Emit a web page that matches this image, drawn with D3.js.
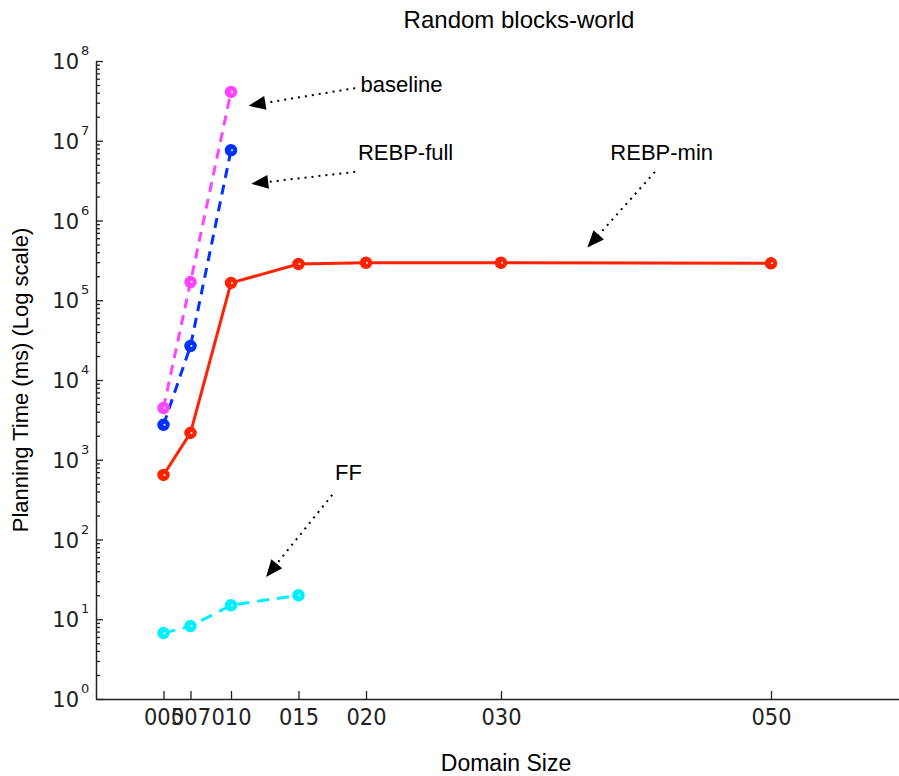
<!DOCTYPE html>
<html>
<head>
<meta charset="utf-8">
<script src="https://cdn.jsdelivr.net/npm/d3@7"></script>
<style>
  html, body { margin: 0; padding: 0; background: #fff; }
  svg { display: block; }
</style>
</head>
<body>
<div id="chart"></div>
<script>
// Data
const sizes = [5, 7, 10, 15, 20, 30, 50];
const sizeLabels = ["005", "007", "010", "015", "020", "030", "050"];
const baseline = [4450, 169000, 41000000];
const rebpFull = [2740, 26700, 7600000];
const rebpMin = [645, 2170, 165000, 285000, 295000, 295000, 290000];
const ff = [6.7, 8.2, 15, 20];
const yExponents = [0, 1, 2, 3, 4, 5, 6, 7, 8];

// annotations in data units (y given as log10)
const notes = [
  { text: "baseline",  at: [19.6, 7.61], tail: [19.2, 7.66], tip: [11.3, 7.44] },
  { text: "REBP-full", at: [19.4, 6.76], tail: [19.2, 6.61], tip: [11.5, 6.46] },
  { text: "REBP-min",  at: [38.1, 6.76], tail: [41.4, 6.61], tip: [36.4, 5.66] },
  { text: "FF",        at: [17.7, 2.75], tail: [17.5, 2.56], tip: [12.6, 1.53] }
];

const width = 899, height = 776;
const marginLeft = 96, marginTop = 61, plotBottom = 699;

const svg = d3.select("#chart")
  .append("svg")
  .attr("width", width)
  .attr("height", height);

svg.append("rect").attr("width", width).attr("height", height).attr("fill", "#fff");

const x = d3.scaleLinear().domain([0, 60]).range([marginLeft, marginLeft + 810]);
const y = d3.scaleLog().domain([1, 1e8]).range([plotBottom, marginTop]);

const tickFont = "'DejaVu Sans', 'Liberation Sans', sans-serif";
const textFont = "'Liberation Sans', Arial, sans-serif";

// Title
svg.append("text")
  .attr("x", 519)
  .attr("y", 28)
  .attr("text-anchor", "middle")
  .attr("font-family", textFont)
  .attr("font-size", "24px")
  .text("Random blocks-world");

// X axis
const xAxis = svg.append("g")
  .attr("transform", `translate(0,${plotBottom})`)
  .call(d3.axisBottom(x)
    .tickValues(sizes)
    .tickFormat((d, i) => sizeLabels[i])
    .tickSize(-8)
    .tickSizeOuter(0)
    .tickPadding(9));
xAxis.select(".domain").attr("stroke", "#222").attr("stroke-width", 1.5);
xAxis.selectAll(".tick line").attr("stroke", "#222").attr("stroke-width", 1.3);
xAxis.selectAll(".tick text")
  .attr("fill", "#222")
  .attr("font-family", tickFont)
  .attr("font-size", "21px")
  .attr("transform", "scale(1,1.1)");

// Y axis: minor ticks, then major ticks
const minors = [];
for (let e = 0; e < 8; e++) {
  for (let m = 2; m <= 9; m++) minors.push(m * Math.pow(10, e));
}
const yMinor = svg.append("g")
  .attr("transform", `translate(${marginLeft},0)`)
  .call(d3.axisRight(y).tickValues(minors).tickSize(4).tickSizeOuter(0).tickFormat(""));
yMinor.select(".domain").remove();
yMinor.selectAll(".tick line").attr("stroke", "#222").attr("stroke-width", 1.3);

const yAxis = svg.append("g")
  .attr("transform", `translate(${marginLeft},0)`)
  .call(d3.axisRight(y)
    .tickValues(yExponents.map(e => Math.pow(10, e)))
    .tickSize(7)
    .tickSizeOuter(0)
    .tickFormat(""));
yAxis.select(".domain").attr("stroke", "#222").attr("stroke-width", 1.5);
yAxis.selectAll(".tick line").attr("stroke", "#222").attr("stroke-width", 1.3);

const yLabels = svg.append("g")
  .attr("font-family", tickFont)
  .attr("fill", "#222");
yExponents.forEach(e => {
  const yy = y(Math.pow(10, e));
  yLabels.append("text")
    .attr("x", marginLeft - 17)
    .attr("y", yy + 8)
    .attr("text-anchor", "end")
    .attr("font-size", "21px")
    .text("10");
  yLabels.append("text")
    .attr("x", marginLeft - 15)
    .attr("y", yy - 6)
    .attr("font-size", "13px")
    .text(e);
});

// Axis labels
svg.append("text")
  .attr("x", 506)
  .attr("y", 771)
  .attr("text-anchor", "middle")
  .attr("font-family", textFont)
  .attr("font-size", "23px")
  .text("Domain Size");

svg.append("text")
  .attr("transform", `translate(28,380) rotate(-90)`)
  .attr("text-anchor", "middle")
  .attr("font-family", textFont)
  .attr("font-size", "22px")
  .text("Planning Time (ms) (Log scale)");

// Series
const series = [
  { name: "REBP-min", values: rebpMin, color: "#ff2200", dash: null },
  { name: "FF", values: ff, color: "#00f0ff", dash: "12,8" },
  { name: "REBP-full", values: rebpFull, color: "#0033ff", dash: "10,7" },
  { name: "baseline", values: baseline, color: "#ff44ff", dash: "10,7" }
];

const line = d3.line()
  .x(d => x(d[0]))
  .y(d => y(d[1]));

series.forEach(s => {
  const pts = s.values.map((v, i) => [sizes[i], v]);
  svg.append("path")
    .datum(pts)
    .attr("fill", "none")
    .attr("stroke", s.color)
    .attr("stroke-width", 3)
    .attr("stroke-dasharray", s.dash)
    .attr("d", line);
  svg.append("g")
    .selectAll("circle")
    .data(pts)
    .join("circle")
    .attr("cx", d => x(d[0]))
    .attr("cy", d => y(d[1]))
    .attr("r", 5.5)
    .attr("fill", s.color)
    .attr("stroke", s.color)
    .attr("stroke-width", 1.5);
  svg.append("g")
    .selectAll("circle")
    .data(pts)
    .join("circle")
    .attr("cx", d => x(d[0]) + 1)
    .attr("cy", d => y(d[1]))
    .attr("r", 1)
    .attr("fill", "#fff");
});

// Annotations
const ann = svg.append("g");
notes.forEach(n => {
  const tx = x(n.tail[0]), ty = y(Math.pow(10, n.tail[1]));
  const px = x(n.tip[0]), py = y(Math.pow(10, n.tip[1]));
  const ang = Math.atan2(py - ty, px - tx);
  const headLen = 17, headW = 7;
  const bx = px - headLen * Math.cos(ang), by = py - headLen * Math.sin(ang);
  ann.append("line")
    .attr("x1", tx).attr("y1", ty)
    .attr("x2", bx).attr("y2", by)
    .attr("stroke", "#000")
    .attr("stroke-width", 2)
    .attr("stroke-dasharray", "2,5");
  const nx = -Math.sin(ang) * headW, ny = Math.cos(ang) * headW;
  ann.append("polygon")
    .attr("points", [[px, py], [bx + nx, by + ny], [bx - nx, by - ny]].map(p => p.join(",")).join(" "))
    .attr("fill", "#000");
  ann.append("text")
    .attr("x", x(n.at[0]))
    .attr("y", y(Math.pow(10, n.at[1])))
    .attr("font-family", textFont)
    .attr("font-size", "22px")
    .text(n.text);
});
</script>
</body>
</html>
